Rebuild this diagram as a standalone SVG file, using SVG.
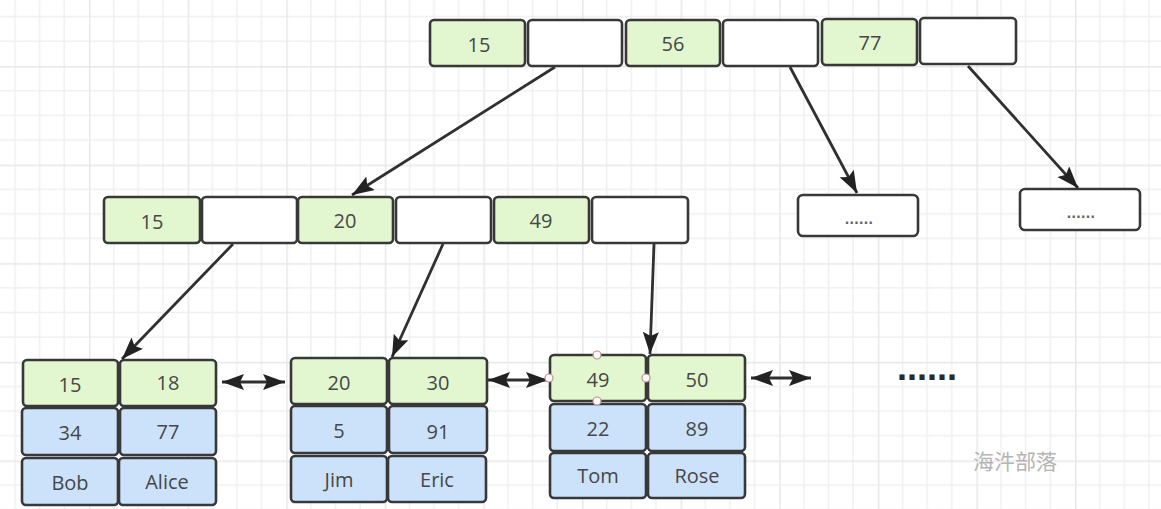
<svg xmlns="http://www.w3.org/2000/svg" width="1161" height="509" viewBox="0 0 1161 509">
<style>
.c{stroke:#383838;stroke-width:2.6}
.g{fill:#e2f6cf}
.b{fill:#cce2fa}
.w{fill:#ffffff}
.t{font-family:"Open Sans","Liberation Sans",sans-serif;font-size:20px;fill:#474747;text-anchor:middle;dominant-baseline:central}
.d{font-family:"Liberation Sans",sans-serif;font-size:16px;font-weight:bold;fill:#666;text-anchor:middle;letter-spacing:0.3px}
.e{stroke:#303030;stroke-width:2.8;fill:none}
</style>
<defs>
<pattern id="grid" x="-9.6" y="-32.6" width="98.6" height="98.6" patternUnits="userSpaceOnUse">
<path d="M24.65 0V98.6M49.3 0V98.6M73.95 0V98.6M0 24.65H98.6M0 49.3H98.6M0 73.95H98.6" stroke="#f0f0f0" stroke-width="1.5" fill="none"/>
<path d="M0.5 0V98.6M0 0.5H98.6" stroke="#e8e8e8" stroke-width="2" fill="none"/>
</pattern>
<marker id="ah" markerUnits="userSpaceOnUse" markerWidth="26" markerHeight="18" refX="22" refY="8" orient="auto">
<path d="M0 0L22 8L0 16L4 8Z" fill="#222"/>
</marker>
<marker id="as" markerUnits="userSpaceOnUse" markerWidth="26" markerHeight="18" refX="0" refY="8" orient="auto">
<path d="M22 0L0 8L22 16L18 8Z" fill="#222"/>
</marker>
</defs>
<rect width="1161" height="509" fill="#ffffff"/>
<rect width="1161" height="509" fill="url(#grid)"/>

<g id="connectors">
<path class="e" d="M555 67L352 195" marker-end="url(#ah)"/>
<path class="e" d="M790 67L857 193" marker-end="url(#ah)"/>
<path class="e" d="M968 66L1078 188" marker-end="url(#ah)"/>
<path class="e" d="M233 244L122 359" marker-end="url(#ah)"/>
<path class="e" d="M443 244L392 357" marker-end="url(#ah)"/>
<path class="e" d="M654 244L650 354" marker-end="url(#ah)"/>
<path class="e" d="M222 382L285 382" marker-start="url(#as)" marker-end="url(#ah)"/>
<path class="e" d="M488 380L548 380" marker-start="url(#as)" marker-end="url(#ah)"/>
<path class="e" d="M751 378L811 378" marker-start="url(#as)" marker-end="url(#ah)"/>
</g>

<g id="root">
<rect class="c g" x="430" y="20" width="95" height="46" rx="4"/>
<rect class="c w" x="528" y="20" width="94" height="46" rx="4"/>
<rect class="c g" x="626" y="20" width="94" height="46" rx="4"/>
<rect class="c w" x="723" y="20" width="95" height="46" rx="4"/>
<rect class="c g" x="822" y="19" width="95" height="46" rx="4"/>
<rect class="c w" x="920" y="18" width="96" height="46" rx="4"/>
<text class="t" x="479" y="44">15</text>
<text class="t" x="673" y="43">56</text>
<text class="t" x="870" y="42">77</text>
</g>

<g id="inner">
<rect class="c g" x="104" y="197" width="96" height="46" rx="4"/>
<rect class="c w" x="202" y="197" width="95" height="46" rx="4"/>
<rect class="c g" x="298" y="197" width="95" height="46" rx="4"/>
<rect class="c w" x="396" y="197" width="95" height="46" rx="4"/>
<rect class="c g" x="494" y="197" width="95" height="46" rx="4"/>
<rect class="c w" x="592" y="197" width="96" height="46" rx="4"/>
<text class="t" x="152" y="221">15</text>
<text class="t" x="345" y="220">20</text>
<text class="t" x="541" y="220">49</text>
</g>

<g id="more1">
<rect class="c w" x="798" y="195" width="120" height="41" rx="5"/>
<text class="d" x="859" y="224">......</text>
</g>
<g id="more2">
<rect class="c w" x="1020" y="189" width="120" height="41" rx="5"/>
<text class="d" x="1081" y="218">......</text>
</g>

<g id="leaf1">
<rect class="c g" x="23" y="360" width="95" height="46" rx="4"/>
<rect class="c g" x="120" y="360" width="96" height="46" rx="4"/>
<rect class="c b" x="22" y="408" width="96" height="47" rx="4"/>
<rect class="c b" x="120" y="408" width="96" height="47" rx="4"/>
<rect class="c b" x="22" y="458" width="96" height="47" rx="4"/>
<rect class="c b" x="119" y="458" width="97" height="47" rx="4"/>
<text class="t" x="70" y="384">15</text>
<text class="t" x="168" y="382">18</text>
<text class="t" x="70" y="432">34</text>
<text class="t" x="168" y="431">77</text>
<text class="t" x="70" y="482">Bob</text>
<text class="t" x="167" y="481">Alice</text>
</g>

<g id="leaf2">
<rect class="c g" x="291" y="358" width="96" height="46" rx="4"/>
<rect class="c g" x="389" y="358" width="98" height="46" rx="4"/>
<rect class="c b" x="291" y="406" width="96" height="47" rx="4"/>
<rect class="c b" x="389" y="406" width="98" height="47" rx="4"/>
<rect class="c b" x="291" y="456" width="96" height="46" rx="4"/>
<rect class="c b" x="388" y="456" width="98" height="46" rx="4"/>
<text class="t" x="339" y="382">20</text>
<text class="t" x="438" y="382">30</text>
<text class="t" x="339" y="430">5</text>
<text class="t" x="438" y="431">91</text>
<text class="t" x="339" y="479">Jim</text>
<text class="t" x="437" y="479">Eric</text>
</g>

<g id="leaf3">
<rect class="c g" x="550" y="355" width="96" height="46" rx="4"/>
<rect class="c g" x="648" y="355" width="97" height="46" rx="4"/>
<rect class="c b" x="550" y="404" width="96" height="47" rx="4"/>
<rect class="c b" x="648" y="404" width="97" height="47" rx="4"/>
<rect class="c b" x="550" y="453" width="96" height="45" rx="4"/>
<rect class="c b" x="648" y="453" width="97" height="45" rx="4"/>
<text class="t" x="598" y="379">49</text>
<text class="t" x="697" y="379">50</text>
<text class="t" x="598" y="428">22</text>
<text class="t" x="697" y="428">89</text>
<text class="t" x="598" y="475">Tom</text>
<text class="t" x="697" y="475">Rose</text>
<g fill="#ffffff" stroke="#c98a8a" stroke-width="1.2">
<circle cx="597" cy="355" r="4"/>
<circle cx="597" cy="401" r="4"/>
<circle cx="549" cy="378" r="4"/>
<circle cx="646" cy="378" r="4"/>
</g>
</g>

<text x="927" y="380" style="font-family:'Liberation Sans',sans-serif;font-size:36px;font-weight:bold;fill:#2a2a2a;text-anchor:middle">......</text>
<text x="1015" y="469" style="font-family:'Noto Sans CJK SC',sans-serif;font-size:21px;fill:#b4b4b4;text-anchor:middle">海汼部落</text>
</svg>
